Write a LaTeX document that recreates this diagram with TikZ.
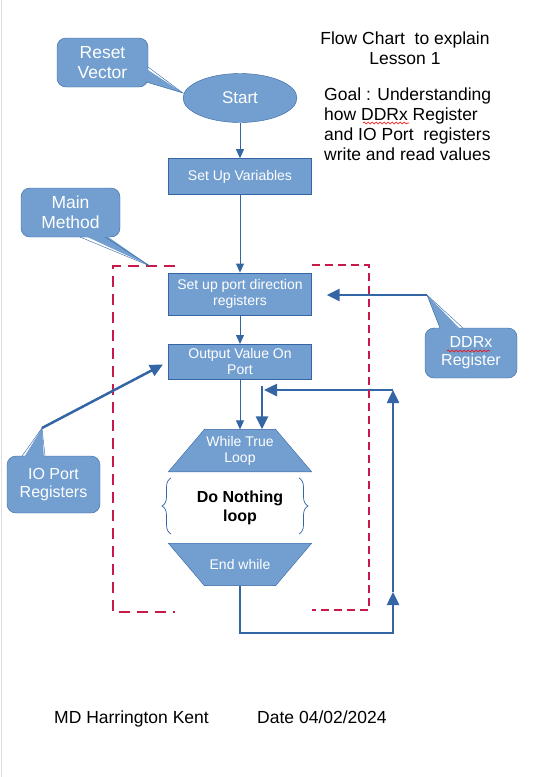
\documentclass[tikz,border=0pt]{standalone}
\usepackage{fontspec}
\setmainfont{Liberation Sans}
\usetikzlibrary{shapes.geometric}
\usetikzlibrary{positioning}
\usetikzlibrary{calc}
\usetikzlibrary{arrows.meta}
\usetikzlibrary{decorations.pathreplacing}
\usetikzlibrary{decorations.pathmorphing}
\pgfdeclarelayer{background}
\pgfsetlayers{background,main}
\definecolor{boxfill}{HTML}{729FCF}
\definecolor{boxline}{HTML}{3465A4}
\definecolor{framered}{HTML}{C9184A}

\begin{document}
\begin{tikzpicture}
			[
				x = 1pt, y = -1pt,
				myblock/.style = {draw = boxline, fill = boxfill, rectangle, text = white, inner sep = 0pt, minimum width = 143pt, align = center, font = \fontsize{14}{16}\selectfont},
				myterminal/.style = {draw = boxline, fill = boxfill, ellipse, text = white, inner sep = 0pt, minimum width = 114pt, minimum height = 49pt, font = \fontsize{17}{20}\selectfont},
				myloop/.style = {rectangle, text = white, inner sep = 0pt, minimum width = 143pt, minimum height = 42pt, align = center, font = \fontsize{14}{16}\selectfont},
				myloopshape/.style = {draw = boxline, fill = boxfill},
				mycallout/.style = {draw = boxline, fill = boxfill, rectangle, rounded corners = 9pt, text = white, inner sep = 0pt, align = center, font = \fontsize{17.5}{20}\selectfont},
				mysmallcallout/.style = {mycallout, font = \fontsize{16}{18}\selectfont},
				mytext/.style = {inner sep = 0pt, font = \fontsize{17.5}{20}\selectfont},
				myarrow/.style = {draw = boxline, line width = 0.8pt, -{Triangle[length = 9pt, width = 8pt]}},
				mythickarrow/.style = {draw = boxline, line width = 2.5pt, -{Triangle[length = 13pt, width = 12pt]}},
				myframe/.style = {draw = framered, line width = 2pt},
				mybrace/.style = {draw = boxline, line width = 0.7pt, decorate, decoration = {brace, amplitude = 9pt}},
				myspell/.style = {draw = red, line width = 0.6pt, decorate, decoration = {snake, amplitude = 1pt, segment length = 4pt}}
			]
			\useasboundingbox (0,0) rectangle (535,777);
			\draw [gray!25] (1,0) -- (1,777);
			%
			\node (start) [myterminal] at (240,98) {Start};
			\node (setvars) [myblock, minimum height = 36pt, below = 35.5pt of start] {Set Up Variables};
			\draw [myarrow] (start) -- (setvars);
			%
			\node (portdir) [myblock, minimum height = 42pt, below = 78pt of setvars] {Set up port direction\\registers};
			\draw [myarrow] (setvars) -- (portdir);
			%
			\node (output) [myblock, minimum height = 35pt, below = 29pt of portdir] {Output Value On\\Port};
			\draw [myarrow] (portdir) -- (output);
			%
			\node (whileloop) [myloop, below = 50pt of output] {While True\\Loop};
			\draw [myarrow] (output) -- (whileloop);
			%
			\node (nothing) [inner sep = 0pt, minimum height = 71pt, below = 0pt of whileloop, align = center, font = \fontsize{16}{19}\selectfont\bfseries] {Do Nothing\\loop};
			\draw [mybrace] (171,534) -- (171,478);
			\draw [mybrace] (299,478) -- (299,534);
			%
			\node (endwhile) [myloop, below = 0pt of nothing] {End while};
			%
			\begin{pgfonlayer}{background}
				\draw [myloopshape] ($(whileloop.north west)+(36,0)$) -- ($(whileloop.north east)+(-36,0)$) -- (whileloop.south east) -- (whileloop.south west) -- cycle;
				\draw [myloopshape] (endwhile.north west) -- (endwhile.north east) -- ($(endwhile.south east)+(-36,0)$) -- ($(endwhile.south west)+(36,0)$) -- cycle;
			\end{pgfonlayer}
			%
			\coordinate (loopcorner) at (393,633);
			\coordinate (loopmid) at (393,592);
			\coordinate (looptop) at (393,390);
			\coordinate (loopback) at (264,390);
			\coordinate (loopentry) at (262,386);
			\draw [mythickarrow] (endwhile) |- (loopcorner) -- (loopmid);
			\draw [mythickarrow] (loopmid) -- (looptop);
			\draw [mythickarrow] (looptop) -- (loopback);
			\draw [mythickarrow] (loopentry) -- (loopentry |- whileloop.north);
			%
			\draw [myframe, dash pattern = on 11pt off 7pt] (175,266) -| (113,612) -- (175,612);
			\draw [myframe, dash pattern = on 8pt off 5pt] (312,265) -| (369,610) -- (312,610);
			%
			\node (reset) [mycallout, minimum width = 91pt, minimum height = 49pt] at (102.5,62.5) {Reset\\Vector};
			\coordinate (resettip) at (183,93);
			\fill [boxfill] (145,68) -- (resettip) -- (143,81) -- cycle;
			\draw [boxline] (148,67) -- (resettip) -- (146,82);
			%
			\node (mainmethod) [mycallout, minimum width = 99pt, minimum height = 49pt] at (70.5,212.5) {Main\\Method};
			\coordinate (maintip) at (150,266);
			\fill [boxfill] (81,234) -- (maintip) -- (104,234) -- cycle;
			\draw [boxline] (80,237) -- (maintip) -- (105,237);
			%
			\node (ddrx) [mysmallcallout, minimum width = 92pt, minimum height = 50pt] at (471,353) {DDRx\\Register};
			\coordinate (ddrxtip) at (427,295);
			\fill [boxfill] (441,331) -- (ddrxtip) -- (462,331) -- cycle;
			\draw [boxline] (440,328) -- (ddrxtip) -- (463,328);
			\draw [myspell] (447,351) -- (490,351);
			\draw [mythickarrow, shorten >= 15pt] (ddrxtip) -- (ddrxtip -| portdir.east);
			%
			\node (ioport) [mysmallcallout, minimum width = 93pt, minimum height = 57pt] at (53.5,484.5) {IO Port\\Registers};
			\coordinate (iotip) at (42,428);
			\fill [boxfill] (23,459) -- (iotip) -- (44,459) -- cycle;
			\draw [boxline] (22,456) -- (iotip) -- (45,456);
			\draw [mythickarrow, shorten >= 6pt] (iotip) -- (output.west);
			%
			\node (title) [mytext, align = center, anchor = north] at (405,32) {Flow Chart \ to explain\\Lesson 1};
			\node (goal) [mytext, align = left, anchor = north west] at (324,88) {Goal : Understanding\\how DDRx Register\\and IO Port \ registers\\write and read values};
			\draw [myspell] (363,123) -- (409,123);
			%
			\node (author) [mytext, anchor = base west] at (54,723) {MD Harrington Kent};
			\node (date) [mytext, base right = 48pt of author] {Date 04/02/2024};
			%
		\end{tikzpicture}
\end{document}
